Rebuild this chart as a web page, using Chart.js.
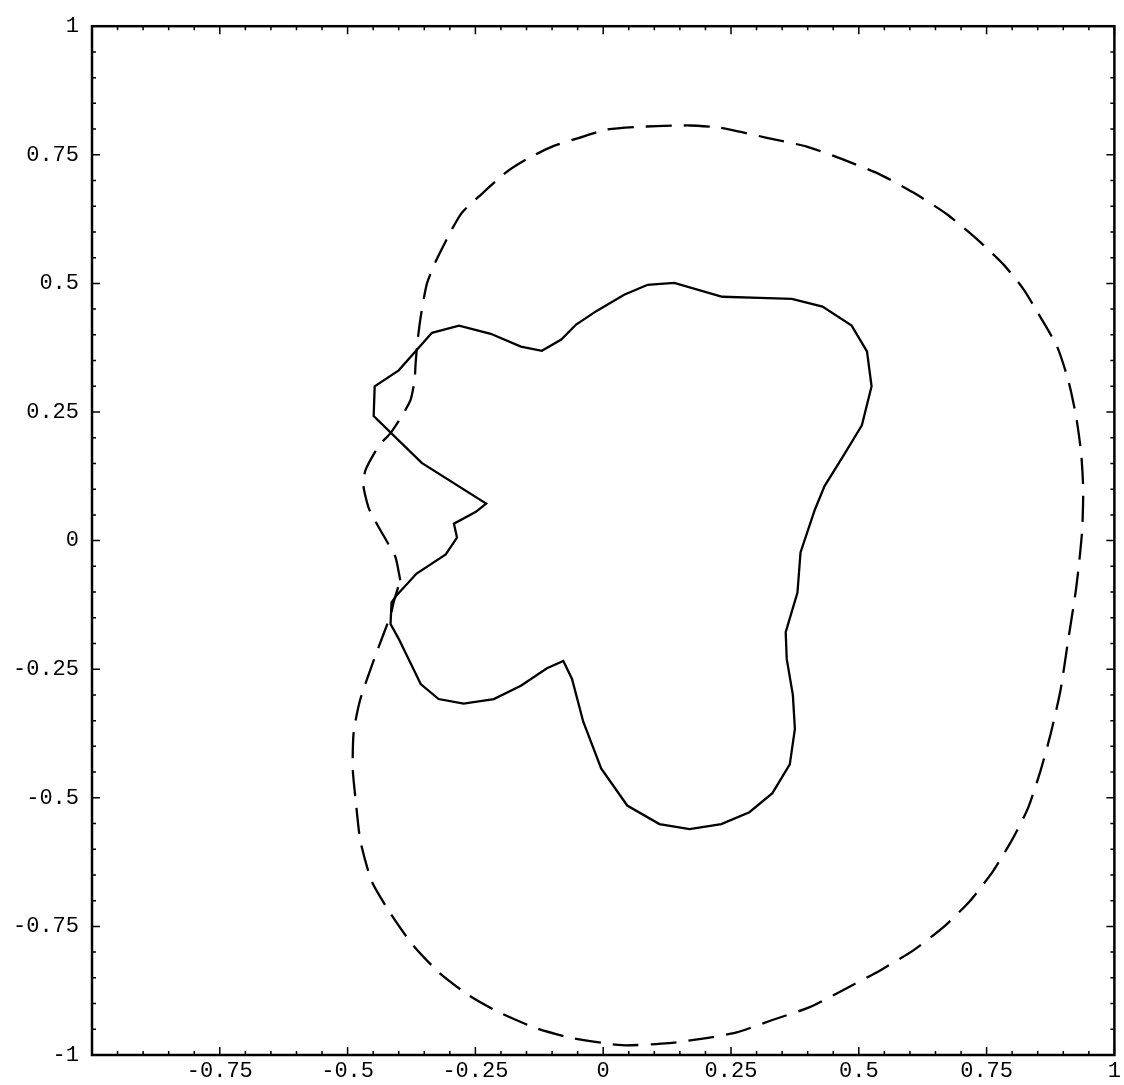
<!DOCTYPE html>
<html>
<head>
<meta charset="utf-8">
<script src="https://cdn.jsdelivr.net/npm/chart.js@4.4.1/dist/chart.umd.min.js"></script>
<style>
    html, body { margin: 0; padding: 0; background: #fff; }
    #wrap { width: 1124px; height: 1085px; position: relative; }
</style>
</head>
<body>
<div id="wrap"><canvas id="curveChart"></canvas></div>
<script>
// Solid curve (polyline)
const solidX = [0.086, 0.139, 0.233, 0.306, 0.369, 0.429, 0.486, 0.516, 0.525, 0.506, 0.473, 0.433, 0.414, 0.386, 0.380, 0.357, 0.359, 0.371, 0.375, 0.365, 0.331, 0.286, 0.231, 0.169, 0.110, 0.047, -0.004, -0.039, -0.061, -0.078, -0.110, -0.161, -0.214, -0.273, -0.322, -0.357, -0.400, -0.416, -0.414, -0.404, -0.365, -0.308, -0.286, -0.292, -0.249, -0.229, -0.355, -0.449, -0.447, -0.400, -0.335, -0.282, -0.220, -0.161, -0.120, -0.082, -0.053, -0.012, 0.041, 0.086];
const solidY = [0.497, 0.501, 0.474, 0.472, 0.470, 0.455, 0.418, 0.368, 0.300, 0.224, 0.170, 0.106, 0.060, -0.023, -0.101, -0.178, -0.230, -0.300, -0.366, -0.435, -0.491, -0.528, -0.551, -0.561, -0.551, -0.515, -0.443, -0.352, -0.269, -0.234, -0.248, -0.282, -0.308, -0.317, -0.308, -0.279, -0.191, -0.162, -0.120, -0.106, -0.064, -0.027, 0.006, 0.033, 0.056, 0.072, 0.151, 0.242, 0.300, 0.331, 0.404, 0.418, 0.402, 0.377, 0.369, 0.391, 0.420, 0.447, 0.478, 0.497];

// Dashed curve (smooth)
const dashedX = [-0.397, -0.406, -0.420, -0.446, -0.459, -0.469, -0.465, -0.439, -0.416, -0.394, -0.377, -0.369, -0.367, -0.363, -0.357, -0.345, -0.327, -0.296, -0.276, -0.243, -0.190, -0.151, -0.100, -0.047, 0.006, 0.084, 0.169, 0.227, 0.267, 0.320, 0.398, 0.469, 0.541, 0.606, 0.673, 0.731, 0.782, 0.822, 0.855, 0.888, 0.910, 0.925, 0.935, 0.939, 0.937, 0.931, 0.924, 0.910, 0.894, 0.875, 0.855, 0.831, 0.802, 0.763, 0.718, 0.665, 0.606, 0.541, 0.469, 0.404, 0.331, 0.261, 0.202, 0.129, 0.037, -0.061, -0.131, -0.204, -0.263, -0.322, -0.375, -0.416, -0.453, -0.475, -0.484, -0.490, -0.488, -0.475, -0.445, -0.416, -0.410, -0.397];
const dashedY = [-0.077, -0.033, -0.007, 0.038, 0.064, 0.106, 0.137, 0.184, 0.209, 0.242, 0.273, 0.311, 0.344, 0.389, 0.435, 0.499, 0.544, 0.605, 0.638, 0.669, 0.716, 0.741, 0.766, 0.783, 0.799, 0.805, 0.807, 0.803, 0.795, 0.783, 0.766, 0.741, 0.712, 0.677, 0.634, 0.586, 0.538, 0.489, 0.435, 0.377, 0.311, 0.242, 0.170, 0.099, 0.021, -0.043, -0.101, -0.191, -0.294, -0.377, -0.449, -0.520, -0.578, -0.642, -0.700, -0.752, -0.797, -0.836, -0.874, -0.907, -0.932, -0.956, -0.967, -0.977, -0.981, -0.967, -0.948, -0.917, -0.884, -0.839, -0.783, -0.725, -0.662, -0.584, -0.507, -0.443, -0.371, -0.308, -0.222, -0.145, -0.120, -0.077];

// Axis ticks
const majorStep = 0.25;
const minorStep = 0.05;
const axisMin = -1;
const axisMax = 1;

const toPoints = (xs, ys) => xs.map((x, i) => ({ x: x, y: ys[i] }));

const fmt = v => String(Math.round(v * 100) / 100);

// Frame with inward ticks on all four sides
const framePlugin = {
    id: 'frame',
    afterDraw(chart) {
        const { ctx, chartArea: a, scales } = chart;
        const xs = scales.x, ys = scales.y;
        ctx.save();
        ctx.strokeStyle = '#000';
        ctx.lineWidth = 2.5;
        ctx.strokeRect(a.left, a.top, a.right - a.left, a.bottom - a.top);
        ctx.lineWidth = 1.5;
        const n = Math.round((axisMax - axisMin) / minorStep);
        for (let i = 0; i <= n; i++) {
            const v = axisMin + i * minorStep;
            const major = Math.abs(v / majorStep - Math.round(v / majorStep)) < 1e-6;
            const len = major ? 8 : 4;
            const px = xs.getPixelForValue(v);
            const py = ys.getPixelForValue(v);
            ctx.beginPath();
            ctx.moveTo(px, a.bottom); ctx.lineTo(px, a.bottom - len);
            ctx.moveTo(px, a.top); ctx.lineTo(px, a.top + len);
            ctx.moveTo(a.left, py); ctx.lineTo(a.left + len, py);
            ctx.moveTo(a.right, py); ctx.lineTo(a.right - len, py);
            ctx.stroke();
        }
        ctx.restore();
    }
};

const tickFont = { family: "'Liberation Mono', 'DejaVu Sans Mono', monospace", size: 22 };

new Chart(document.getElementById('curveChart'), {
    type: 'scatter',
    data: {
        datasets: [
            {
                data: toPoints(dashedX, dashedY),
                showLine: true,
                borderColor: '#000',
                borderWidth: 2.3,
                borderDash: [26, 12],
                pointRadius: 0,
                tension: 0.2,
                fill: false
            },
            {
                data: toPoints(solidX, solidY),
                showLine: true,
                borderColor: '#000',
                borderWidth: 2.3,
                pointRadius: 0,
                tension: 0,
                fill: false
            }
        ]
    },
    options: {
        responsive: true,
        maintainAspectRatio: false,
        animation: false,
        layout: { padding: { top: 21, right: 9, left: 0, bottom: 0 } },
        plugins: {
            legend: { display: false },
            tooltip: { enabled: false }
        },
        scales: {
            x: {
                type: 'linear',
                min: axisMin,
                max: axisMax,
                afterFit: s => { s.height = 30; },
                grid: { display: false, drawTicks: false },
                border: { display: false },
                ticks: {
                    stepSize: majorStep,
                    autoSkip: false,
                    maxRotation: 0,
                    padding: 3,
                    color: '#000',
                    font: tickFont,
                    callback: v => (v <= axisMin + 1e-6 ? '' : fmt(v))
                }
            },
            y: {
                type: 'linear',
                min: axisMin,
                max: axisMax,
                afterFit: s => { s.width = 92; },
                grid: { display: false, drawTicks: false },
                border: { display: false },
                ticks: {
                    stepSize: majorStep,
                    autoSkip: false,
                    padding: 13,
                    color: '#000',
                    font: tickFont,
                    callback: v => fmt(v)
                }
            }
        }
    },
    plugins: [framePlugin]
});
</script>
</body>
</html>
